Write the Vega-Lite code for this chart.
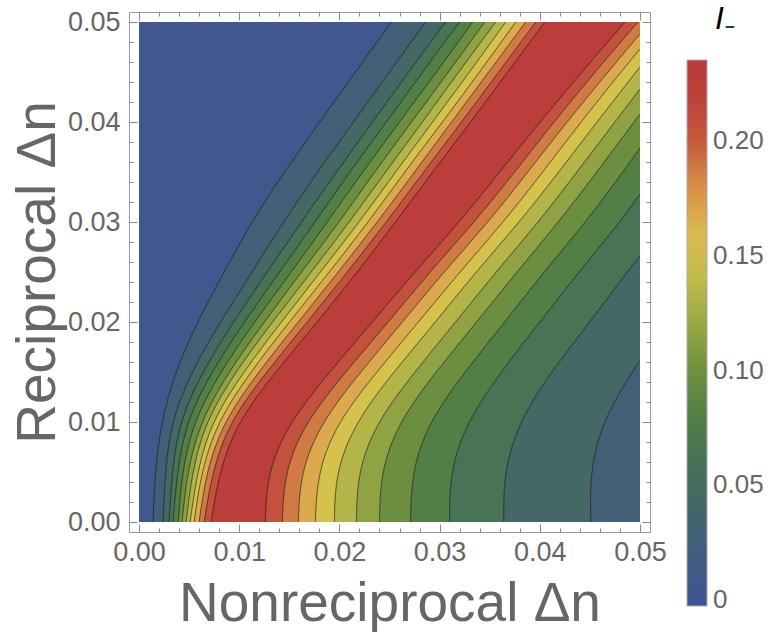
{
  "$schema": "https://vega.github.io/schema/vega-lite/v6.json",
  "width": 521,
  "height": 520,
  "autosize": "none",
  "padding": {"left": 129, "top": 12, "right": 118, "bottom": 100},
  "config": {
    "view": {"stroke": "#9b9b9b", "strokeWidth": 1},
    "font": "Liberation Sans",
    "axis": {
      "domain": false, "grid": false, "labelOverlap": false, "labelFlush": false,
      "tickColor": "#8a8a8a", "tickWidth": 1, "labelFontSize": 27, "labelColor": "#666666",
      "titleFontSize": 55, "titleFontWeight": "normal", "titleColor": "#666666"
    }
  },
  "datasets": {
    "contours": [
      {"c":0,"v":0.006,"y":0,"x":0},{"c":0,"v":0.006,"y":0.05,"x":0},
      {"c":1,"v":0.0268,"y":0,"x":0.0014},{"c":1,"v":0.0268,"y":0.005,"x":0.0016},{"c":1,"v":0.0268,"y":0.01,"x":0.0022},{"c":1,"v":0.0268,"y":0.015,"x":0.0036},{"c":1,"v":0.0268,"y":0.02,"x":0.0058},{"c":1,"v":0.0268,"y":0.025,"x":0.0085},{"c":1,"v":0.0268,"y":0.03,"x":0.0112},{"c":1,"v":0.0268,"y":0.035,"x":0.0145},{"c":1,"v":0.0268,"y":0.04,"x":0.018},{"c":1,"v":0.0268,"y":0.045,"x":0.0216},{"c":1,"v":0.0268,"y":0.05,"x":0.0252},
      {"c":2,"v":0.0446,"y":0,"x":0.0024},{"c":2,"v":0.0446,"y":0.005,"x":0.0026},{"c":2,"v":0.0446,"y":0.01,"x":0.0032},{"c":2,"v":0.0446,"y":0.015,"x":0.0052},{"c":2,"v":0.0446,"y":0.02,"x":0.0081},{"c":2,"v":0.0446,"y":0.025,"x":0.0113},{"c":2,"v":0.0446,"y":0.03,"x":0.0144},{"c":2,"v":0.0446,"y":0.035,"x":0.0178},{"c":2,"v":0.0446,"y":0.04,"x":0.0214},{"c":2,"v":0.0446,"y":0.045,"x":0.025},{"c":2,"v":0.0446,"y":0.05,"x":0.0286},
      {"c":3,"v":0.0625,"y":0,"x":0.003},{"c":3,"v":0.0625,"y":0.005,"x":0.0033},{"c":3,"v":0.0625,"y":0.01,"x":0.004},{"c":3,"v":0.0625,"y":0.015,"x":0.0063},{"c":3,"v":0.0625,"y":0.02,"x":0.0094},{"c":3,"v":0.0625,"y":0.025,"x":0.0128},{"c":3,"v":0.0625,"y":0.03,"x":0.0162},{"c":3,"v":0.0625,"y":0.035,"x":0.0197},{"c":3,"v":0.0625,"y":0.04,"x":0.0233},{"c":3,"v":0.0625,"y":0.045,"x":0.0269},{"c":3,"v":0.0625,"y":0.05,"x":0.0306},
      {"c":4,"v":0.0803,"y":0,"x":0.0034},{"c":4,"v":0.0803,"y":0.005,"x":0.0038},{"c":4,"v":0.0803,"y":0.01,"x":0.0047},{"c":4,"v":0.0803,"y":0.015,"x":0.0072},{"c":4,"v":0.0803,"y":0.02,"x":0.0105},{"c":4,"v":0.0803,"y":0.025,"x":0.014},{"c":4,"v":0.0803,"y":0.03,"x":0.0176},{"c":4,"v":0.0803,"y":0.035,"x":0.021},{"c":4,"v":0.0803,"y":0.04,"x":0.0247},{"c":4,"v":0.0803,"y":0.045,"x":0.0283},{"c":4,"v":0.0803,"y":0.05,"x":0.032},
      {"c":5,"v":0.0981,"y":0,"x":0.0039},{"c":5,"v":0.0981,"y":0.005,"x":0.0043},{"c":5,"v":0.0981,"y":0.01,"x":0.0054},{"c":5,"v":0.0981,"y":0.015,"x":0.0081},{"c":5,"v":0.0981,"y":0.02,"x":0.0115},{"c":5,"v":0.0981,"y":0.025,"x":0.0152},{"c":5,"v":0.0981,"y":0.03,"x":0.0188},{"c":5,"v":0.0981,"y":0.035,"x":0.0223},{"c":5,"v":0.0981,"y":0.04,"x":0.026},{"c":5,"v":0.0981,"y":0.045,"x":0.0297},{"c":5,"v":0.0981,"y":0.05,"x":0.0333},
      {"c":6,"v":0.116,"y":0,"x":0.0043},{"c":6,"v":0.116,"y":0.005,"x":0.0048},{"c":6,"v":0.116,"y":0.01,"x":0.0061},{"c":6,"v":0.116,"y":0.015,"x":0.0089},{"c":6,"v":0.116,"y":0.02,"x":0.0125},{"c":6,"v":0.116,"y":0.025,"x":0.0162},{"c":6,"v":0.116,"y":0.03,"x":0.02},{"c":6,"v":0.116,"y":0.035,"x":0.0235},{"c":6,"v":0.116,"y":0.04,"x":0.0272},{"c":6,"v":0.116,"y":0.045,"x":0.0309},{"c":6,"v":0.116,"y":0.05,"x":0.0345},
      {"c":7,"v":0.1338,"y":0,"x":0.0047},{"c":7,"v":0.1338,"y":0.005,"x":0.0053},{"c":7,"v":0.1338,"y":0.01,"x":0.0066},{"c":7,"v":0.1338,"y":0.015,"x":0.0096},{"c":7,"v":0.1338,"y":0.02,"x":0.0133},{"c":7,"v":0.1338,"y":0.025,"x":0.0172},{"c":7,"v":0.1338,"y":0.03,"x":0.021},{"c":7,"v":0.1338,"y":0.035,"x":0.0246},{"c":7,"v":0.1338,"y":0.04,"x":0.0283},{"c":7,"v":0.1338,"y":0.045,"x":0.0319},{"c":7,"v":0.1338,"y":0.05,"x":0.0356},
      {"c":8,"v":0.1517,"y":0,"x":0.0051},{"c":8,"v":0.1517,"y":0.005,"x":0.0058},{"c":8,"v":0.1517,"y":0.01,"x":0.0072},{"c":8,"v":0.1517,"y":0.015,"x":0.0104},{"c":8,"v":0.1517,"y":0.02,"x":0.0142},{"c":8,"v":0.1517,"y":0.025,"x":0.0181},{"c":8,"v":0.1517,"y":0.03,"x":0.022},{"c":8,"v":0.1517,"y":0.035,"x":0.0256},{"c":8,"v":0.1517,"y":0.04,"x":0.0293},{"c":8,"v":0.1517,"y":0.045,"x":0.033},{"c":8,"v":0.1517,"y":0.05,"x":0.0366},
      {"c":9,"v":0.1695,"y":0,"x":0.0055},{"c":9,"v":0.1695,"y":0.005,"x":0.0062},{"c":9,"v":0.1695,"y":0.01,"x":0.0078},{"c":9,"v":0.1695,"y":0.015,"x":0.0111},{"c":9,"v":0.1695,"y":0.02,"x":0.015},{"c":9,"v":0.1695,"y":0.025,"x":0.019},{"c":9,"v":0.1695,"y":0.03,"x":0.0229},{"c":9,"v":0.1695,"y":0.035,"x":0.0265},{"c":9,"v":0.1695,"y":0.04,"x":0.0303},{"c":9,"v":0.1695,"y":0.045,"x":0.034},{"c":9,"v":0.1695,"y":0.05,"x":0.0376},
      {"c":10,"v":0.1874,"y":0,"x":0.006},{"c":10,"v":0.1874,"y":0.005,"x":0.0067},{"c":10,"v":0.1874,"y":0.01,"x":0.0084},{"c":10,"v":0.1874,"y":0.015,"x":0.0119},{"c":10,"v":0.1874,"y":0.02,"x":0.0159},{"c":10,"v":0.1874,"y":0.025,"x":0.0199},{"c":10,"v":0.1874,"y":0.03,"x":0.0238},{"c":10,"v":0.1874,"y":0.035,"x":0.0275},{"c":10,"v":0.1874,"y":0.04,"x":0.0312},{"c":10,"v":0.1874,"y":0.045,"x":0.0349},{"c":10,"v":0.1874,"y":0.05,"x":0.0386},
      {"c":11,"v":0.2052,"y":0,"x":0.0065},{"c":11,"v":0.2052,"y":0.005,"x":0.0073},{"c":11,"v":0.2052,"y":0.01,"x":0.009},{"c":11,"v":0.2052,"y":0.015,"x":0.0127},{"c":11,"v":0.2052,"y":0.02,"x":0.0168},{"c":11,"v":0.2052,"y":0.025,"x":0.0208},{"c":11,"v":0.2052,"y":0.03,"x":0.0247},{"c":11,"v":0.2052,"y":0.035,"x":0.0284},{"c":11,"v":0.2052,"y":0.04,"x":0.0322},{"c":11,"v":0.2052,"y":0.045,"x":0.0359},{"c":11,"v":0.2052,"y":0.05,"x":0.0396},
      {"c":12,"v":0.224,"y":0,"x":0.0072},{"c":12,"v":0.224,"y":0.005,"x":0.008},{"c":12,"v":0.224,"y":0.01,"x":0.0098},{"c":12,"v":0.224,"y":0.015,"x":0.0136},{"c":12,"v":0.224,"y":0.02,"x":0.0178},{"c":12,"v":0.224,"y":0.025,"x":0.0218},{"c":12,"v":0.224,"y":0.03,"x":0.0256},{"c":12,"v":0.224,"y":0.035,"x":0.0293},{"c":12,"v":0.224,"y":0.04,"x":0.0331},{"c":12,"v":0.224,"y":0.045,"x":0.0368},{"c":12,"v":0.224,"y":0.05,"x":0.0405},
      {"c":13,"v":0.2052,"y":0,"x":0.0126},{"c":13,"v":0.2052,"y":0.005,"x":0.0128},{"c":13,"v":0.2052,"y":0.01,"x":0.015},{"c":13,"v":0.2052,"y":0.015,"x":0.019},{"c":13,"v":0.2052,"y":0.02,"x":0.0233},{"c":13,"v":0.2052,"y":0.025,"x":0.0275},{"c":13,"v":0.2052,"y":0.03,"x":0.032},{"c":13,"v":0.2052,"y":0.035,"x":0.036},{"c":13,"v":0.2052,"y":0.04,"x":0.04},{"c":13,"v":0.2052,"y":0.045,"x":0.0442},{"c":13,"v":0.2052,"y":0.05,"x":0.0485},
      {"c":14,"v":0.1874,"y":0,"x":0.0143},{"c":14,"v":0.1874,"y":0.005,"x":0.0145},{"c":14,"v":0.1874,"y":0.01,"x":0.0166},{"c":14,"v":0.1874,"y":0.015,"x":0.0206},{"c":14,"v":0.1874,"y":0.02,"x":0.0249},{"c":14,"v":0.1874,"y":0.025,"x":0.029},{"c":14,"v":0.1874,"y":0.03,"x":0.0335},{"c":14,"v":0.1874,"y":0.035,"x":0.0375},{"c":14,"v":0.1874,"y":0.04,"x":0.0414},{"c":14,"v":0.1874,"y":0.045,"x":0.0455},{"c":14,"v":0.1874,"y":0.05,"x":0.0498},
      {"c":15,"v":0.1695,"y":0,"x":0.0159},{"c":15,"v":0.1695,"y":0.005,"x":0.0161},{"c":15,"v":0.1695,"y":0.01,"x":0.0182},{"c":15,"v":0.1695,"y":0.015,"x":0.0221},{"c":15,"v":0.1695,"y":0.02,"x":0.0263},{"c":15,"v":0.1695,"y":0.025,"x":0.0304},{"c":15,"v":0.1695,"y":0.03,"x":0.0349},{"c":15,"v":0.1695,"y":0.035,"x":0.0388},{"c":15,"v":0.1695,"y":0.04,"x":0.0427},{"c":15,"v":0.1695,"y":0.045,"x":0.0468},{"c":15,"v":0.1695,"y":0.0488,"x":0.05},
      {"c":16,"v":0.1517,"y":0,"x":0.0176},{"c":16,"v":0.1517,"y":0.005,"x":0.0178},{"c":16,"v":0.1517,"y":0.01,"x":0.0198},{"c":16,"v":0.1517,"y":0.015,"x":0.0237},{"c":16,"v":0.1517,"y":0.02,"x":0.0279},{"c":16,"v":0.1517,"y":0.025,"x":0.032},{"c":16,"v":0.1517,"y":0.03,"x":0.0364},{"c":16,"v":0.1517,"y":0.035,"x":0.0403},{"c":16,"v":0.1517,"y":0.04,"x":0.0441},{"c":16,"v":0.1517,"y":0.045,"x":0.0481},{"c":16,"v":0.1517,"y":0.0473,"x":0.05},
      {"c":17,"v":0.1338,"y":0,"x":0.0195},{"c":17,"v":0.1338,"y":0.005,"x":0.0196},{"c":17,"v":0.1338,"y":0.01,"x":0.0216},{"c":17,"v":0.1338,"y":0.015,"x":0.0254},{"c":17,"v":0.1338,"y":0.02,"x":0.0296},{"c":17,"v":0.1338,"y":0.025,"x":0.0336},{"c":17,"v":0.1338,"y":0.03,"x":0.038},{"c":17,"v":0.1338,"y":0.035,"x":0.0419},{"c":17,"v":0.1338,"y":0.04,"x":0.0457},{"c":17,"v":0.1338,"y":0.045,"x":0.0496},{"c":17,"v":0.1338,"y":0.0455,"x":0.05},
      {"c":18,"v":0.116,"y":0,"x":0.0217},{"c":18,"v":0.116,"y":0.005,"x":0.0218},{"c":18,"v":0.116,"y":0.01,"x":0.0237},{"c":18,"v":0.116,"y":0.015,"x":0.0275},{"c":18,"v":0.116,"y":0.02,"x":0.0316},{"c":18,"v":0.116,"y":0.025,"x":0.0356},{"c":18,"v":0.116,"y":0.03,"x":0.0399},{"c":18,"v":0.116,"y":0.035,"x":0.0437},{"c":18,"v":0.116,"y":0.04,"x":0.0475},{"c":18,"v":0.116,"y":0.0433,"x":0.05},
      {"c":19,"v":0.0981,"y":0,"x":0.024},{"c":19,"v":0.0981,"y":0.005,"x":0.0241},{"c":19,"v":0.0981,"y":0.01,"x":0.0259},{"c":19,"v":0.0981,"y":0.015,"x":0.0296},{"c":19,"v":0.0981,"y":0.02,"x":0.0337},{"c":19,"v":0.0981,"y":0.025,"x":0.0377},{"c":19,"v":0.0981,"y":0.03,"x":0.0419},{"c":19,"v":0.0981,"y":0.035,"x":0.0457},{"c":19,"v":0.0981,"y":0.04,"x":0.0494},{"c":19,"v":0.0981,"y":0.0408,"x":0.05},
      {"c":20,"v":0.0803,"y":0,"x":0.0271},{"c":20,"v":0.0803,"y":0.005,"x":0.0272},{"c":20,"v":0.0803,"y":0.01,"x":0.0289},{"c":20,"v":0.0803,"y":0.015,"x":0.0325},{"c":20,"v":0.0803,"y":0.02,"x":0.0365},{"c":20,"v":0.0803,"y":0.025,"x":0.0404},{"c":20,"v":0.0803,"y":0.03,"x":0.0446},{"c":20,"v":0.0803,"y":0.035,"x":0.0483},{"c":20,"v":0.0803,"y":0.0374,"x":0.05},
      {"c":21,"v":0.0625,"y":0,"x":0.031},{"c":21,"v":0.0625,"y":0.005,"x":0.031},{"c":21,"v":0.0625,"y":0.01,"x":0.0327},{"c":21,"v":0.0625,"y":0.015,"x":0.0361},{"c":21,"v":0.0625,"y":0.02,"x":0.04},{"c":21,"v":0.0625,"y":0.025,"x":0.0439},{"c":21,"v":0.0625,"y":0.03,"x":0.048},{"c":21,"v":0.0625,"y":0.0328,"x":0.05},
      {"c":22,"v":0.0446,"y":0,"x":0.0364},{"c":22,"v":0.0446,"y":0.005,"x":0.0364},{"c":22,"v":0.0446,"y":0.01,"x":0.0379},{"c":22,"v":0.0446,"y":0.015,"x":0.0411},{"c":22,"v":0.0446,"y":0.02,"x":0.045},{"c":22,"v":0.0446,"y":0.025,"x":0.0487},{"c":22,"v":0.0446,"y":0.0266,"x":0.05},
      {"c":23,"v":0.0268,"y":0,"x":0.0451},{"c":23,"v":0.0268,"y":0.005,"x":0.045},{"c":23,"v":0.0268,"y":0.01,"x":0.0462},{"c":23,"v":0.0268,"y":0.015,"x":0.0492},{"c":23,"v":0.0268,"y":0.0161,"x":0.05}
    ]
  },
  "data": {"name": "contours"},
  "layer": [
    {
      "mark": {"type": "area", "orient": "horizontal", "interpolate": "basis"},
      "encoding": {
        "y": {
          "field": "y", "type": "quantitative",
          "scale": {"domain": [-0.001, 0.051], "nice": false, "zero": false},
          "axis": {
            "orient": "left", "values": [0, 0.01, 0.02, 0.03, 0.04, 0.05], "format": ".2f",
            "tickSize": -8, "labelPadding": 17,
            "title": "Reciprocal Δn", "titleX": -75, "titleBaseline": "alphabetic"
          }
        },
        "x": {
          "field": "x", "type": "quantitative",
          "scale": {"domain": [-0.001, 0.051], "nice": false, "zero": false},
          "axis": {
            "orient": "bottom", "values": [0, 0.01, 0.02, 0.03, 0.04, 0.05], "format": ".2f",
            "tickSize": -8, "labelPadding": 15,
            "title": "Nonreciprocal Δn", "titleY": 88, "titleBaseline": "alphabetic"
          }
        },
        "x2": {"datum": 0.05},
        "detail": {"field": "c", "type": "ordinal"},
        "color": {
          "field": "v", "type": "quantitative",
          "scale": {
            "domain": [-0.0026, 0.025, 0.05, 0.075, 0.1, 0.125, 0.15, 0.165, 0.18, 0.2, 0.215, 0.2354],
            "range": ["#3e5597", "#415f7a", "#456b5f", "#4b7b48", "#6e9040", "#a3ad46", "#d3c44d", "#ddb651", "#d88f47", "#c45a3e", "#bd423a", "#b83a3a"],
            "interpolate": "rgb"
          },
          "legend": {
            "orient": "none", "legendX": 558, "legendY": -8, "direction": "vertical",
            "gradientLength": 546, "gradientThickness": 20,
            "gradientStrokeColor": "#aaaaaa", "gradientStrokeWidth": 1,
            "values": [0, 0.05, 0.1, 0.15, 0.2],
            "labelExpr": "datum.value === 0 ? '0' : format(datum.value, '.2f')",
            "labelFontSize": 26, "labelColor": "#666666", "labelOffset": 6,
            "title": "I₋", "titleFontStyle": "italic", "titleFontSize": 32, "titleFontWeight": "normal",
            "titleColor": "#000000", "titlePadding": 24, "titleAnchor": "middle"
          }
        }
      }
    },
    {
      "transform": [{"filter": "datum.c > 0"}],
      "mark": {"type": "area", "orient": "horizontal", "interpolate": "basis", "fillOpacity": 0, "stroke": "#1a1a1a", "strokeOpacity": 0.4, "strokeWidth": 0.9},
      "encoding": {
        "y": {
          "field": "y", "type": "quantitative",
          "axis": {"orient": "left", "values": [0.002,0.004,0.006,0.008,0.012,0.014,0.016,0.018,0.022,0.024,0.026,0.028,0.032,0.034,0.036,0.038,0.042,0.044,0.046,0.048], "labels": false, "tickSize": -4, "title": null}
        },
        "x": {
          "field": "x", "type": "quantitative",
          "axis": {"orient": "bottom", "values": [0.002,0.004,0.006,0.008,0.012,0.014,0.016,0.018,0.022,0.024,0.026,0.028,0.032,0.034,0.036,0.038,0.042,0.044,0.046,0.048], "labels": false, "tickSize": -4, "title": null}
        },
        "x2": {"field": "x"},
        "detail": {"field": "c", "type": "ordinal"}
      }
    },
    {
      "transform": [{"filter": "datum.c < 0"}],
      "mark": {"type": "area", "orient": "horizontal", "fillOpacity": 0},
      "encoding": {
        "y": {
          "field": "y", "type": "quantitative",
          "axis": {"orient": "right", "values": [0, 0.01, 0.02, 0.03, 0.04, 0.05], "labels": false, "tickSize": -8, "title": null}
        },
        "x": {
          "field": "x", "type": "quantitative",
          "axis": {"orient": "top", "values": [0, 0.01, 0.02, 0.03, 0.04, 0.05], "labels": false, "tickSize": -8, "title": null}
        },
        "x2": {"field": "x"}
      }
    },
    {
      "transform": [{"filter": "datum.c < 0"}],
      "mark": {"type": "area", "orient": "horizontal", "fillOpacity": 0},
      "encoding": {
        "y": {
          "field": "y", "type": "quantitative",
          "axis": {"orient": "right", "values": [0.002,0.004,0.006,0.008,0.012,0.014,0.016,0.018,0.022,0.024,0.026,0.028,0.032,0.034,0.036,0.038,0.042,0.044,0.046,0.048], "labels": false, "tickSize": -4, "title": null}
        },
        "x": {
          "field": "x", "type": "quantitative",
          "axis": {"orient": "top", "values": [0.002,0.004,0.006,0.008,0.012,0.014,0.016,0.018,0.022,0.024,0.026,0.028,0.032,0.034,0.036,0.038,0.042,0.044,0.046,0.048], "labels": false, "tickSize": -4, "title": null}
        },
        "x2": {"field": "x"}
      }
    }
  ],
  "resolve": {"axis": {"x": "independent", "y": "independent"}}
}
